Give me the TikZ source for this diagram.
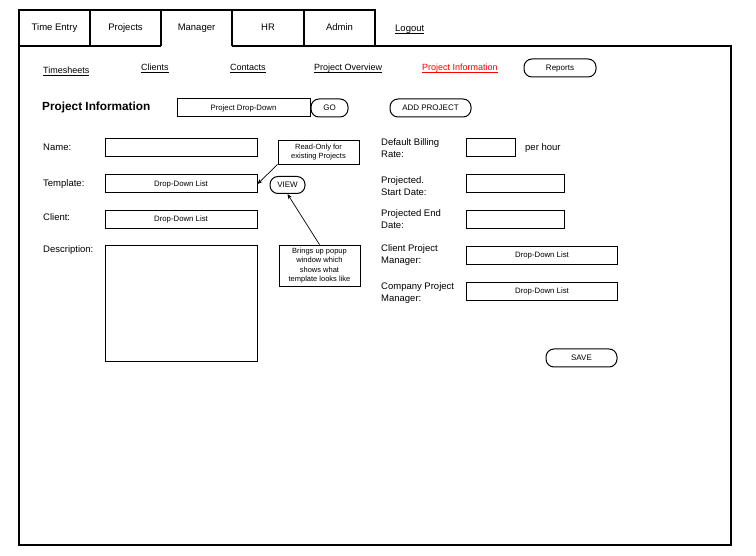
\documentclass[tikz,border=0pt]{standalone}
\usepackage{fontspec}
\setmainfont{Liberation Sans}
\usetikzlibrary{arrows.meta}
\newcommand{\ulink}[1]{\underline{\smash{#1}}}
\tikzset{
  lbl/.style={font=\fontsize{9.5}{12}\selectfont, inner sep=0pt, anchor=west, text height=7pt, text depth=2pt},
  lbltwo/.style={font=\fontsize{9.5}{12}\selectfont, inner sep=0pt, anchor=west, align=left},
  tabname/.style={font=\fontsize{9.5}{11}\selectfont, inner sep=0pt, text height=7pt, text depth=2pt},
  link/.style={font=\fontsize{9}{11}\selectfont, inner sep=0pt, anchor=base west},
  fieldbox/.style={draw, line width=1pt, minimum height=18pt, inner sep=0pt, text height=6pt, text depth=1.8pt, font=\fontsize{7.8}{9}\selectfont},
  button/.style={draw, line width=1pt, rounded corners=8pt, minimum height=18pt, inner sep=0pt, text height=6pt, text depth=1.8pt, font=\fontsize{8}{9}\selectfont},
  notebox/.style={draw, line width=0.8pt, align=center, inner sep=0pt, font=\fontsize{7.5}{9.6}\selectfont},
  pointer/.style={line width=0.7pt, -{Stealth[length=5pt,width=4pt]}}
}
\begin{document}
\begin{tikzpicture}[x=1pt,y=-1pt]
    \useasboundingbox (0,0) rectangle (756,556);
    \draw[line width=1.2pt] (19,545) -- (19,10) -- (375,10) -- (375,46) -- (731,46) -- (731,545) -- cycle;
    \foreach \x in {90,161,232,304}
        \draw[line width=1.2pt] (\x,10) -- (\x,46);
    \draw[line width=1.2pt] (19,46) -- (161,46);
    \draw[line width=1.2pt] (232,46) -- (375,46);
    \node[tabname] (tabtime) at (54.5,28) {Time Entry};
    \node[tabname] (tabproj) at (125.5,28) {Projects};
    \node[tabname] (tabmgr) at (196.5,28) {Manager};
    \node[tabname] (tabhr) at (268,28) {HR};
    \node[tabname] (tabadmin) at (339.5,28) {Admin};
    \node[link,font=\fontsize{9.5}{11}\selectfont] (logout) at (395,31.5) {\ulink{Logout}};
    \node[link] (timesheets) at (43,73.5) {\ulink{Timesheets}};
    \node[link] (clients) at (141,71) {\ulink{Clients}};
    \node[link] (contacts) at (230,71) {\ulink{Contacts}};
    \node[link] (overview) at (314,71) {\ulink{Project Overview}};
    \node[link,red] (projinfo) at (422,71) {\ulink{Project Information}};
    \node[button,minimum width=72pt] (reports) at (560,68) {Reports};
    \node[anchor=west,inner sep=0pt,font=\bfseries\fontsize{11.8}{13}\selectfont] (title) at (42,107.5) {Project Information};
    \node[fieldbox,minimum width=133pt] (projdrop) at (243.5,108) {Project Drop-Down};
    \node[button,minimum width=37pt] (go) at (329.5,108) {GO};
    \node[button,minimum width=81pt] (addproj) at (430.5,108) {ADD PROJECT};
    \node[lbl] (namelbl) at (43,148) {Name:};
    \node[lbl] (templbl) at (43,184) {Template:};
    \node[lbl] (clientlbl) at (43,218) {Client:};
    \node[lbl] (desclbl) at (43,250) {Description:};
    \node[fieldbox,minimum width=152pt] (name) at (181,148) {};
    \node[fieldbox,minimum width=152pt] (template) at (181,184) {Drop-Down List};
    \node[fieldbox,minimum width=152pt] (client) at (181,219.5) {Drop-Down List};
    \node[fieldbox,minimum width=152pt,minimum height=116pt] (desc) at (181,304) {};
    \node[notebox,minimum width=81pt,minimum height=24pt] (readonly) at (318.5,152) {Read-Only for\\existing Projects};
    \node[button,minimum width=35pt,minimum height=17pt] (view) at (287.5,185) {VIEW};
    \node[notebox,minimum width=81pt,minimum height=41pt] (popup) at (319.5,265.5) {Brings up popup\\window which\\shows what\\template looks like};
    \draw[pointer] (readonly.south west) -- (template.east);
    \draw[pointer] (popup.north) -- (view.south);
    \node[lbltwo] (ratelbl) at (381,148) {Default Billing\\Rate:};
    \node[fieldbox,minimum width=49pt] (rate) at (491,148) {};
    \node[lbl] (perhour) at (525,148) {per hour};
    \node[lbltwo] (startlbl) at (381,186) {Projected.\\Start Date:};
    \node[fieldbox,minimum width=98pt] (start) at (515.5,184) {};
    \node[lbltwo] (endlbl) at (381,219.5) {Projected End\\Date:};
    \node[fieldbox,minimum width=98pt] (end) at (515.5,220) {};
    \node[lbltwo] (cpmlbl) at (381,255) {Client Project\\Manager:};
    \node[fieldbox,minimum width=151pt] (cpm) at (542,255.5) {Drop-Down List};
    \node[lbltwo] (compmlbl) at (381,293) {Company Project\\Manager:};
    \node[fieldbox,minimum width=151pt] (compm) at (542,291.5) {Drop-Down List};
    \node[button,minimum width=71pt] (save) at (581.5,358) {SAVE};
\end{tikzpicture}
\end{document}
